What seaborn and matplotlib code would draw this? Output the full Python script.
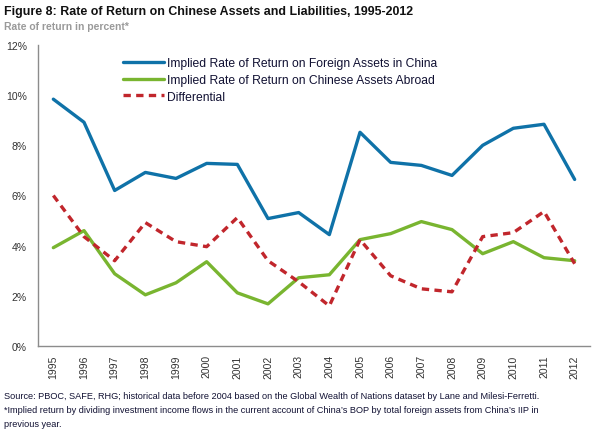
import numpy as np
import pandas as pd
import matplotlib
matplotlib.use("Agg")
import matplotlib.pyplot as plt
import seaborn as sns

years = list(range(1995, 2013))
foreign_in_china = [9.84, 8.92, 6.2, 6.92, 6.68, 7.28, 7.24, 5.08, 5.32, 4.44,
                    8.52, 7.32, 7.2, 6.8, 8.0, 8.68, 8.84, 6.64]
chinese_abroad = [3.92, 4.6, 2.88, 2.04, 2.52, 3.36, 2.12, 1.68, 2.72, 2.84,
                  4.24, 4.48, 4.96, 4.64, 3.68, 4.16, 3.52, 3.4]
differential = [6.0, 4.36, 3.4, 4.92, 4.16, 3.96, 5.12, 3.4, 2.56, 1.6,
                4.24, 2.8, 2.28, 2.16, 4.36, 4.52, 5.36, 3.28]

labels = ["Implied Rate of Return on Foreign Assets in China",
          "Implied Rate of Return on Chinese Assets Abroad",
          "Differential"]
colors = ["#0f72a8", "#79b530", "#c1262c"]

sns.set_style("white")
plt.rcParams['font.family'] = ['Liberation Sans', 'DejaVu Sans']

fig = plt.figure(figsize=(5.95, 4.39), dpi=100)
ax = fig.add_axes([38 / 595, 1 - 347 / 439, 552 / 595, 301 / 439])

df = pd.DataFrame({"year": years})
for series, lab in zip([foreign_in_china, chinese_abroad, differential], labels):
    df[lab] = series

sns.lineplot(data=df, x="year", y=labels[0], color=colors[0], lw=2.4, ax=ax, label=labels[0])
sns.lineplot(data=df, x="year", y=labels[1], color=colors[1], lw=2.4, ax=ax, label=labels[1])
sns.lineplot(data=df, x="year", y=labels[2], color=colors[2], lw=2.4, ax=ax, label=labels[2],
             linestyle=(0, (2.2, 1.6)))

ax.set_xlim(1994.5, 2012.5)
ax.set_ylim(0, 12)
ax.set_xticks(years)
ax.set_xticklabels([str(y) for y in years], rotation=90, fontsize=7.5)
ax.set_yticks(range(0, 13, 2))
ax.set_yticklabels([f"{v}%" for v in range(0, 13, 2)], fontsize=7.5)
ax.tick_params(axis='y', length=0, pad=8, colors="#333333")
ax.tick_params(axis='x', length=0, pad=6, colors="#333333")
ax.set_xlabel("")
ax.set_ylabel("")
for s in ["top", "right"]:
    ax.spines[s].set_visible(False)
for s in ["left", "bottom"]:
    ax.spines[s].set_color("#8c8c8c")
    ax.spines[s].set_linewidth(1.0)

leg = ax.legend(loc="upper left", bbox_to_anchor=(0.145, 0.975), frameon=False,
                fontsize=8.7, handlelength=3.4, labelspacing=0.38, handletextpad=0.25,
                borderaxespad=0)
for t in leg.get_texts():
    t.set_color("#111133")

fig.text(4 / 595, 1 - 12 / 439, "Figure 8: Rate of Return on Chinese Assets and Liabilities, 1995-2012",
         fontsize=8.9, fontweight="bold", va="center", ha="left", color="#111111")
fig.text(4 / 595, 1 - 27 / 439, "Rate of return in percent*",
         fontsize=7.5, fontweight="bold", va="center", ha="left", color="#9a9a9a")

fig.text(4 / 595, 1 - 397 / 439,
         "Source: PBOC, SAFE, RHG; historical data before 2004 based on the Global Wealth of Nations dataset by Lane and Milesi-Ferretti.",
         fontsize=6.55, va="center", ha="left", color="#111133")
fig.text(4 / 595, 1 - 411 / 439,
         "*Implied return by dividing investment income flows in the current account of China\u2019s BOP by total foreign assets from China\u2019s IIP in",
         fontsize=6.55, va="center", ha="left", color="#111133")
fig.text(4 / 595, 1 - 425 / 439, "previous year.",
         fontsize=6.55, va="center", ha="left", color="#111133")

fig.savefig("out.png", dpi=100)
